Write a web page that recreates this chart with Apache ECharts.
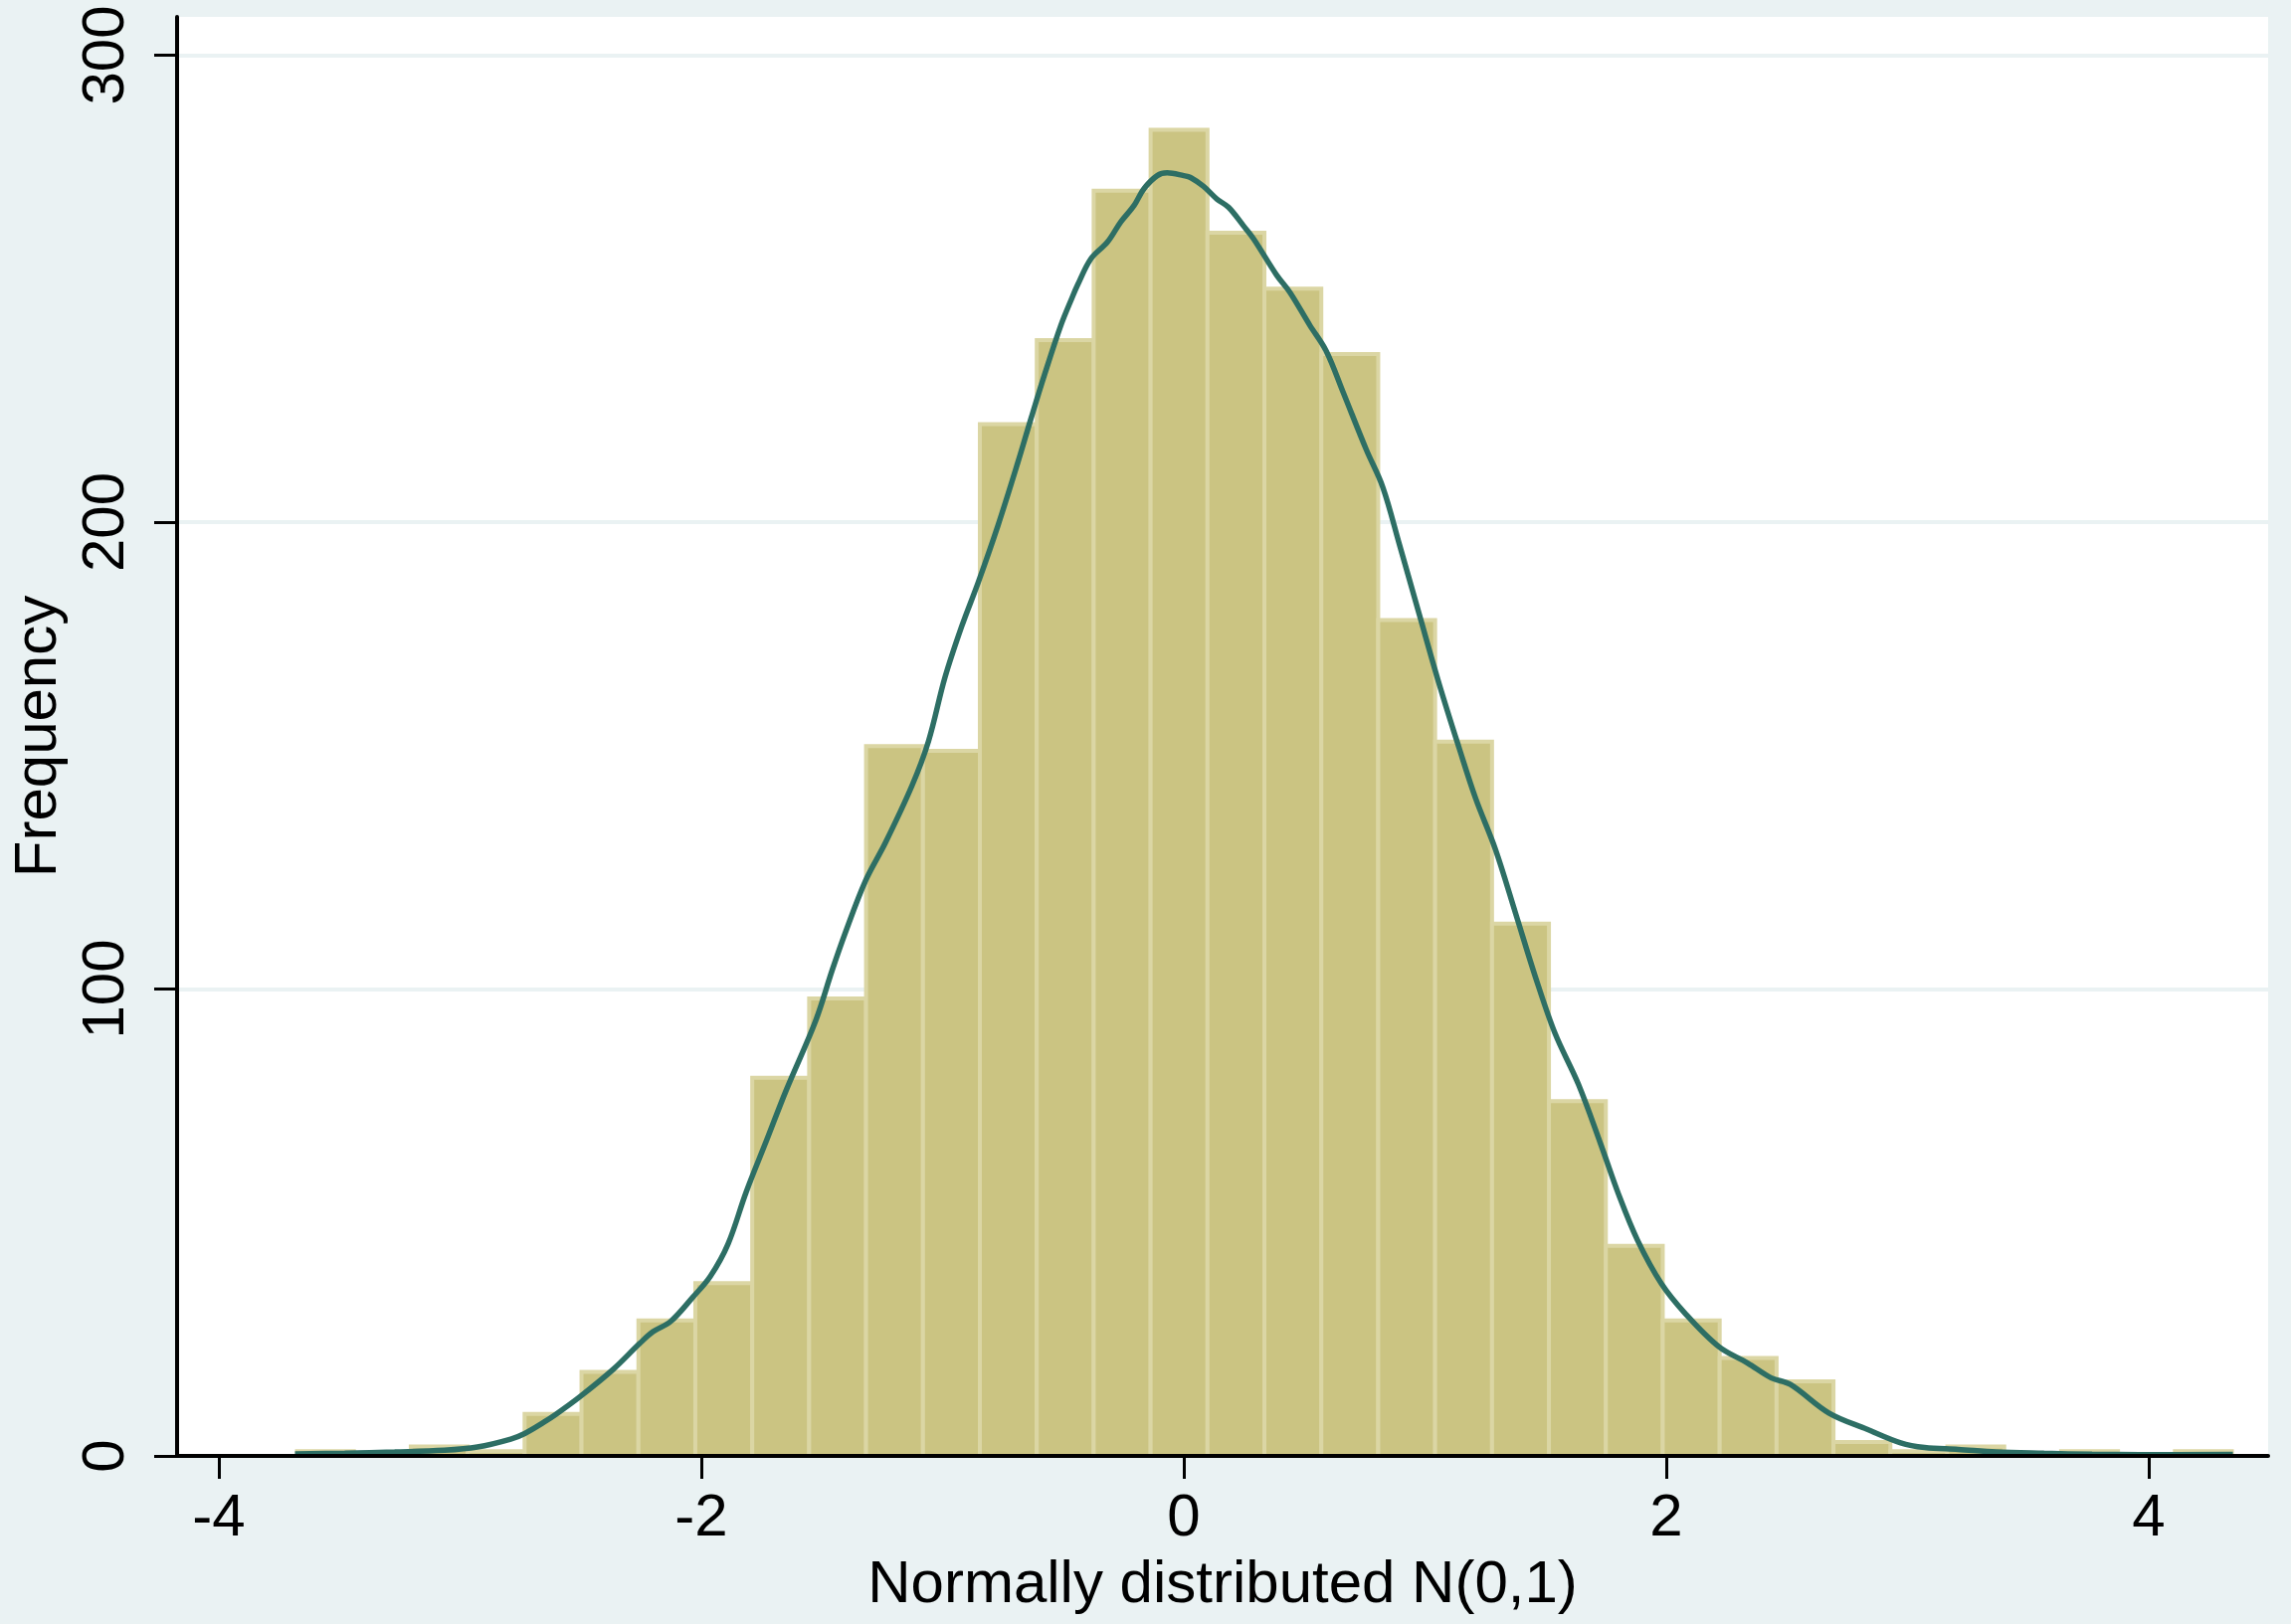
<!DOCTYPE html>
<html><head><meta charset="utf-8">
<script src="https://cdn.jsdelivr.net/npm/echarts@6/dist/echarts.min.js"></script>
<style>html,body{margin:0;padding:0;background:#eaf2f3;} #c{width:2303px;height:1633px;}</style>
</head><body><div id="c"></div>
<script>
// Histogram bins (34 bins)
const binStart = -3.676;
const binWidth = 0.2359;
const counts = [1,0,2,1,9,18,29,37,81,98,152,151,221,239,271,284,262,250,236,179,153,114,76,45,29,21,16,3,1,2,0,1,0,1];

// Kernel density curve (scaled to frequency)
const kdX = [-3.684,-3.478,-3.271,-3.065,-2.928,-2.79,-2.732,-2.653,-2.6,-2.5,-2.366,-2.255,-2.2,-2.127,-2.035,-1.962,-1.889,-1.814,-1.73,-1.649,-1.526,-1.457,-1.402,-1.32,-1.237,-1.127,-1.058,-0.99,-0.921,-0.852,-0.77,-0.687,-0.632,-0.577,-0.509,-0.461,-0.44,-0.385,-0.316,-0.261,-0.206,-0.165,-0.11,-0.069,0.0,0.028,0.082,0.137,0.186,0.247,0.289,0.385,0.44,0.522,0.591,0.66,0.756,0.825,0.894,0.976,1.059,1.141,1.21,1.292,1.375,1.457,1.539,1.636,1.727,1.802,1.881,1.98,2.079,2.218,2.337,2.436,2.515,2.674,2.833,2.972,3.071,3.21,3.368,3.566,3.765,3.963,4.349];
const kdY = [0.4,0.6,0.85,1.2,1.9,3.6,4.8,7.2,9.0,12.8,18.5,24.1,26.6,28.8,34.0,38.5,45.4,56.5,67.5,78.2,93.2,104.1,112.2,123.1,131.3,143.5,153.1,166.7,177.6,187.1,199.3,212.9,222.4,231.6,242.2,248.3,250.8,256.4,260.0,264.3,267.8,271.4,274.2,274.8,274.2,273.8,271.9,269.2,267.4,263.5,260.7,252.9,249.2,242.2,236.6,227.9,215.6,207.5,195.2,180.3,165.3,151.7,140.8,129.9,116.3,102.7,90.5,79.6,67.0,56.1,46.2,36.9,30.5,23.4,19.9,16.7,15.3,9.2,5.7,2.8,1.8,1.4,0.85,0.57,0.36,0.28,0.3];

const xTicks = [-4,-2,0,2,4];
const yTicks = [0,100,200,300];
const xTitle = 'Normally distributed N(0,1)';
const yTitle = 'Frequency';

const FONT = "'Liberation Sans', Arial, Helvetica, sans-serif";
const barData = counts.map((c, i) => [binStart + i * binWidth, binStart + (i + 1) * binWidth, c]);
const lineData = kdX.map((x, i) => [x, kdY[i]]);

const chart = echarts.init(document.getElementById('c'), null, {renderer: 'canvas'});
chart.setOption({
  backgroundColor: '#eaf2f3',
  animation: false,
  grid: {left: 178, right: 23, top: 17, bottom: 169, show: true, backgroundColor: '#ffffff', borderWidth: 0},
  xAxis: {
    type: 'value', min: -4.173, max: 4.495, z: 10,
    name: xTitle, nameLocation: 'middle', nameGap: 100,
    nameTextStyle: {fontSize: 60, fontFamily: FONT, color: '#000'},
    axisLine: {show: true, onZero: false, lineStyle: {color: '#000', width: 4}},
    axisTick: {show: true, length: 23, lineStyle: {color: '#000', width: 3}, customValues: xTicks},
    axisLabel: {fontSize: 60, fontFamily: FONT, color: '#000', margin: 33, customValues: xTicks},
    splitLine: {show: false}
  },
  yAxis: {
    type: 'value', min: 0, max: 308.2, z: 0,
    name: yTitle, nameLocation: 'middle', nameGap: 107,
    nameTextStyle: {fontSize: 60, fontFamily: FONT, color: '#000'},
    axisLine: {show: true, onZero: false, lineStyle: {color: '#000', width: 4}},
    axisTick: {show: true, length: 23, lineStyle: {color: '#000', width: 3}, customValues: yTicks},
    axisLabel: {fontSize: 60, fontFamily: FONT, color: '#000', margin: 41, rotate: 90, customValues: yTicks},
    splitLine: {show: true, lineStyle: {color: '#eaf2f3', width: 4}}
  },
  series: [
    {
      type: 'custom',
      z: 2,
      encode: {x: [0, 1], y: 2},
      data: barData,
      renderItem: function (params, api) {
        const c = api.value(2);
        if (!c) return null;
        const p0 = api.coord([api.value(0), c]);
        const p1 = api.coord([api.value(1), 0]);
        return {
          type: 'rect',
          shape: {x: p0[0], y: p0[1], width: p1[0] - p0[0], height: p1[1] - p0[1]},
          style: {fill: '#cbc482', stroke: '#dbd6a4', lineWidth: 4}
        };
      }
    },
    {
      type: 'line',
      z: 5,
      data: lineData,
      showSymbol: false,
      smooth: 0.35,
      lineStyle: {color: '#2d6e64', width: 5.5}
    }
  ]
});
</script>
</body></html>
